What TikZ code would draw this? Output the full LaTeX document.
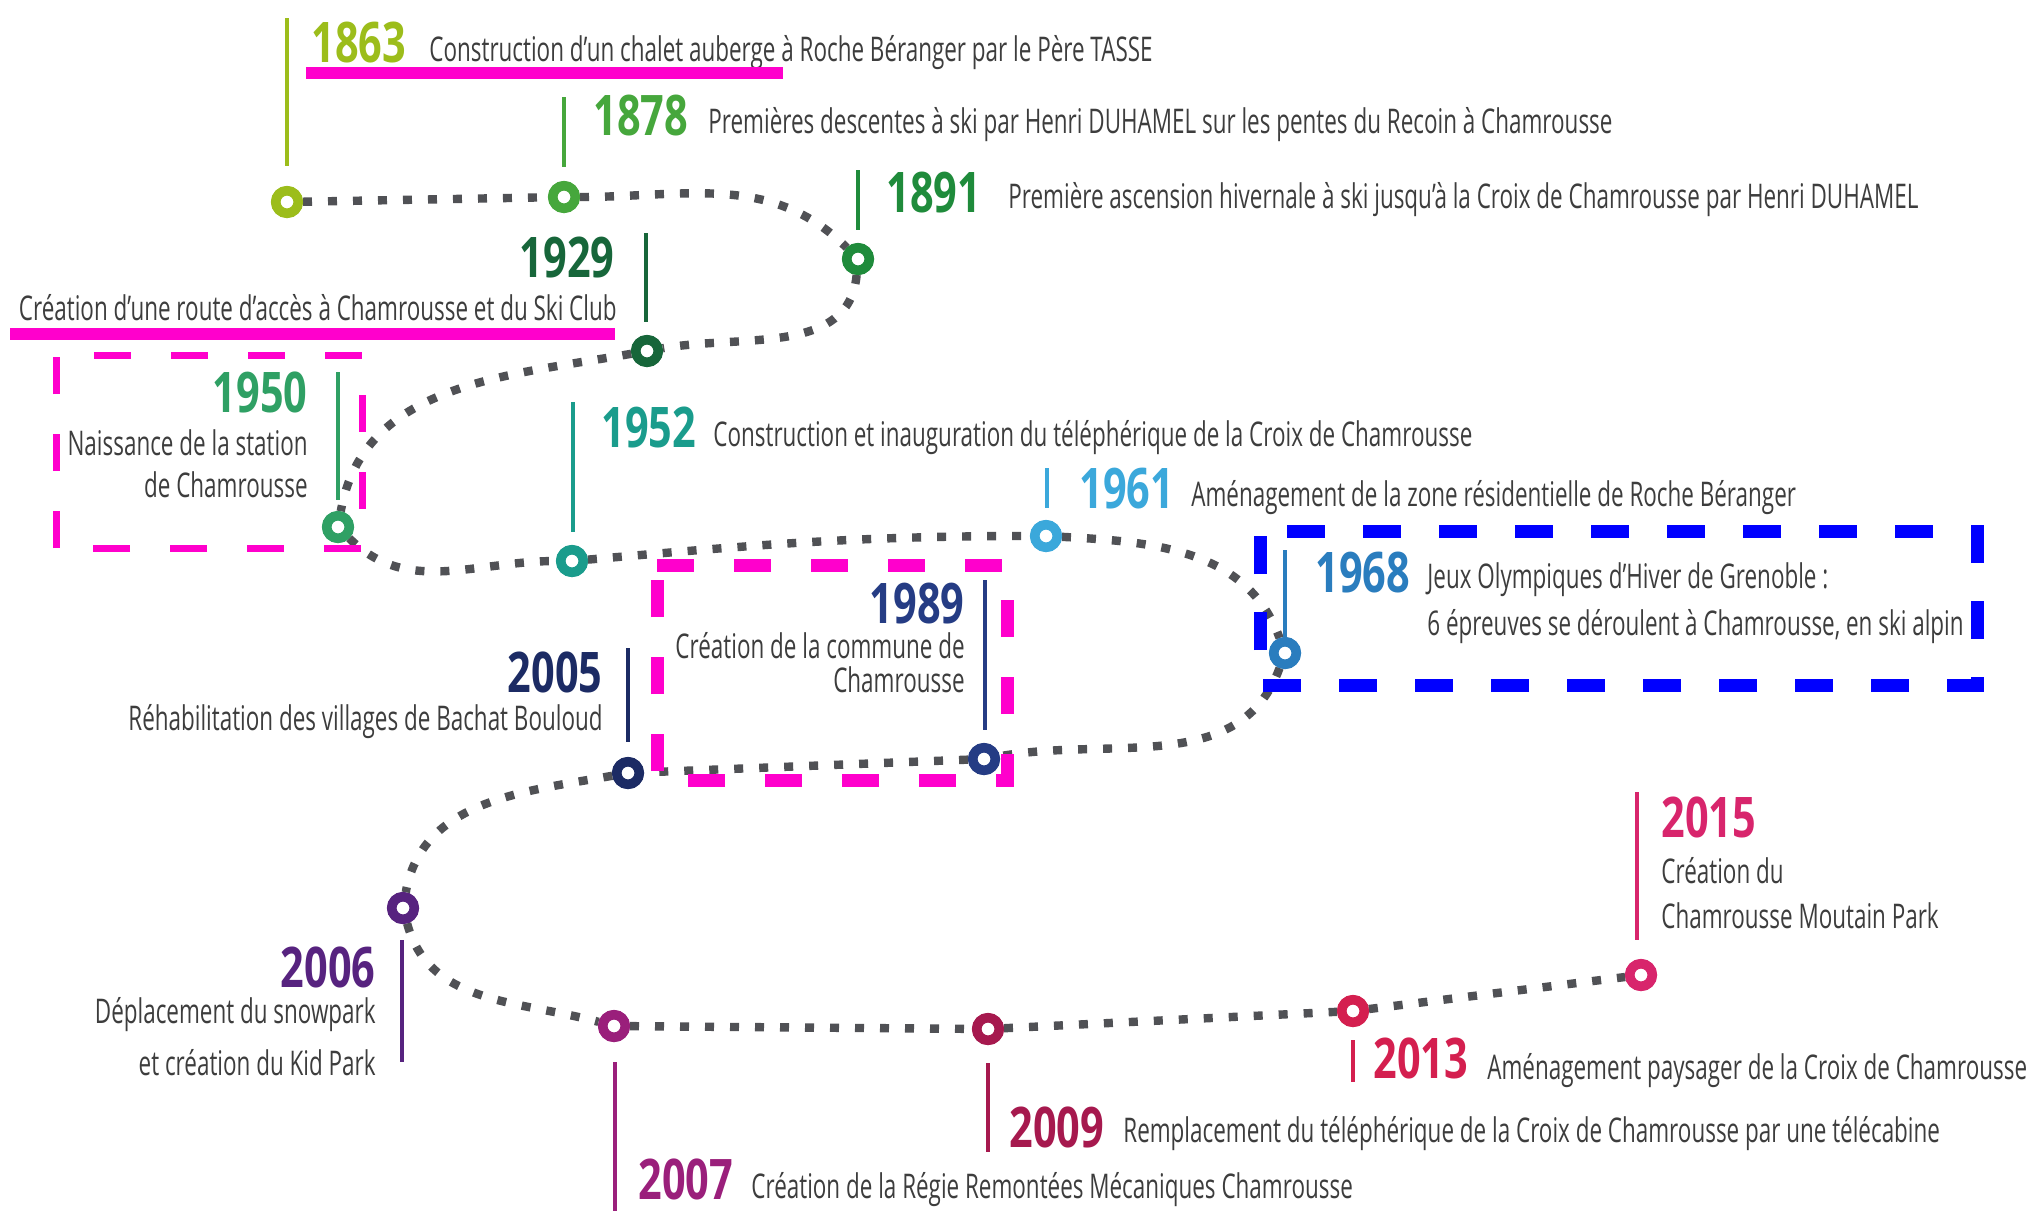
\documentclass[tikz,border=0pt]{standalone}
\usepackage{fontspec}
\setmainfont{Open Sans}
\newfontfamily\descfont[FakeStretch=0.66]{Open Sans}
\newfontfamily\yearfont[FakeStretch=0.74]{Open Sans}
\definecolor{c1863}{HTML}{9CBD1B}
\definecolor{c1878}{HTML}{46A73C}
\definecolor{c1891}{HTML}{1F8B3B}
\definecolor{c1929}{HTML}{17663A}
\definecolor{c1950}{HTML}{2FA064}
\definecolor{c1952}{HTML}{1A9C8C}
\definecolor{c1961}{HTML}{3BA8DB}
\definecolor{c1968}{HTML}{2A7DBE}
\definecolor{c1989}{HTML}{253C84}
\definecolor{c2005}{HTML}{1C2B64}
\definecolor{c2006}{HTML}{57237F}
\definecolor{c2007}{HTML}{9A1F7B}
\definecolor{c2009}{HTML}{A6194E}
\definecolor{c2013}{HTML}{D41F4F}
\definecolor{c2015}{HTML}{D8256C}
\definecolor{txtgray}{HTML}{3D3D3D}
\definecolor{dotgray}{HTML}{505155}
\definecolor{annmag}{HTML}{FF00CC}
\definecolor{annblue}{HTML}{0000FF}
\begin{document}
\begin{tikzpicture}[x=0.5pt,y=0.5pt,
  desc/.style={inner sep=0pt, font=\descfont\fontsize{17}{20}\selectfont, text=txtgray},
  yr/.style={inner sep=0pt, font=\yearfont\bfseries\fontsize{28}{30}\selectfont, text=#1},
  ring/.style={circle, draw=#1, fill=white, line width=4.75pt, minimum size=11.25pt, inner sep=0pt},
  stem/.style={draw=#1, line width=2pt},
  dots/.style={draw=dotgray, line width=4.2pt, dash pattern=on 4.5pt off 8pt},
  magline/.style={draw=annmag, line width=6pt},
  magthin/.style={draw=annmag, line width=3.5pt, dash pattern=on 18.5pt off 20pt},
  magthick/.style={draw=annmag, line width=6.5pt, dash pattern=on 18.5pt off 20pt},
  bluethick/.style={draw=annblue, line width=6.5pt, dash pattern=on 19pt off 19pt, dash phase=24.5pt}
]
\useasboundingbox[fill=white] (0,0) rectangle (2033,-1211);

% markers
\node[ring=c1863] (m1863) at (287,-202) {};
\node[ring=c1878] (m1878) at (564,-197) {};
\node[ring=c1891] (m1891) at (858,-259) {};
\node[ring=c1929] (m1929) at (647,-351) {};
\node[ring=c1950] (m1950) at (338,-527) {};
\node[ring=c1952] (m1952) at (572,-561) {};
\node[ring=c1961] (m1961) at (1046,-536) {};
\node[ring=c1968] (m1968) at (1285,-653) {};
\node[ring=c1989] (m1989) at (984,-759) {};
\node[ring=c2005] (m2005) at (628,-773) {};
\node[ring=c2006] (m2006) at (403,-908) {};
\node[ring=c2007] (m2007) at (614,-1026) {};
\node[ring=c2009] (m2009) at (988,-1029) {};
\node[ring=c2013] (m2013) at (1353,-1011) {};
\node[ring=c2015] (m2015) at (1641,-975) {};

% dotted path
\draw[dots] (m1863) -- (m1878)
  to[out=0,in=135] (m1891)
  to[out=-95,in=10] (m1929)
  to[out=190,in=80] (m1950)
  to[out=-45,in=180] (m1952)
  to[out=5,in=180] (m1961)
  to[out=-3,in=110] (m1968)
  to[out=-110,in=10] (m1989)
  -- (m2005)
  to[out=190,in=80] (m2006)
  to[out=-75,in=165] (m2007)
  -- (m2009) -- (m2013) -- (m2015);
% redraw rings on top
\foreach \n/\c in {1863/c1863,1878/c1878,1891/c1891,1929/c1929,1950/c1950,1952/c1952,1961/c1961,1968/c1968,1989/c1989,2005/c2005,2006/c2006,2007/c2007,2009/c2009,2013/c2013,2015/c2015}
  \draw[draw=\c, fill=white, line width=4.75pt] (m\n.center) circle[radius=5.625pt];

% stems
\draw[stem=c1863] (287,-18) -- (287,-166);
\draw[stem=c1878] (564,-97) -- (564,-167);
\draw[stem=c1891] (858,-170) -- (858,-230);
\draw[stem=c1929] (646,-233) -- (646,-322);
\draw[stem=c1950] (338,-372) -- (338,-500);
\draw[stem=c1952] (573,-402) -- (573,-532);
\draw[stem=c1961] (1047,-468) -- (1047,-508);
\draw[stem=c1968] (1285,-550) -- (1285,-637);
\draw[stem=c1989] (985,-580) -- (985,-730);
\draw[stem=c2005] (628,-648) -- (628,-742);
\draw[stem=c2006] (402,-940) -- (402,-1062);
\draw[stem=c2007] (615,-1062) -- (615,-1211);
\draw[stem=c2009] (988,-1063) -- (988,-1152);
\draw[stem=c2013] (1353,-1040) -- (1353,-1082);
\draw[stem=c2015] (1637,-792) -- (1637,-940);

% years
\node[yr=c1863, anchor=base west] (y1863) at (311,-62) {1863};
\node[yr=c1878, anchor=base west] (y1878) at (593,-135) {1878};
\node[yr=c1891, anchor=base west] (y1891) at (886,-212) {1891};
\node[yr=c1929, anchor=base east] (y1929) at (615,-277) {1929};
\node[yr=c1950, anchor=base east] (y1950) at (308,-412) {1950};
\node[yr=c1952, anchor=base west] (y1952) at (601,-447) {1952};
\node[yr=c1961, anchor=base west] (y1961) at (1079,-508) {1961};
\node[yr=c1968, anchor=base west] (y1968) at (1315,-592) {1968};
\node[yr=c1989, anchor=base east] (y1989) at (965,-623) {1989};
\node[yr=c2005, anchor=base east] (y2005) at (603,-692) {2005};
\node[yr=c2006, anchor=base east] (y2006) at (376,-987) {2006};
\node[yr=c2007, anchor=base west] (y2007) at (638,-1199) {2007};
\node[yr=c2009, anchor=base west] (y2009) at (1009,-1147) {2009};
\node[yr=c2013, anchor=base west] (y2013) at (1373,-1078) {2013};
\node[yr=c2015, anchor=base west] (y2015) at (1661,-837) {2015};

% descriptions
\node[desc, anchor=base west] (d1863) at (429,-61) {Construction d’un chalet auberge à Roche Béranger par le Père TASSE};
\node[desc, anchor=base west] (d1878) at (708,-133) {Premières descentes à ski par Henri DUHAMEL sur les pentes du Recoin à Chamrousse};
\node[desc, anchor=base west] (d1891) at (1008,-208) {Première ascension hivernale à ski jusqu’à la Croix de Chamrousse par Henri DUHAMEL};
\node[desc, anchor=base east] (d1929) at (617,-320) {Création d’une route d’accès à Chamrousse et du Ski Club};
\node[desc, anchor=base east] (d1950a) at (308,-455) {Naissance de la station};
\node[desc, anchor=base east] (d1950b) at (308,-497) {de Chamrousse};
\node[desc, anchor=base west] (d1952) at (713,-446) {Construction et inauguration du téléphérique de la Croix de Chamrousse};
\node[desc, anchor=base west] (d1961) at (1191,-506) {Aménagement de la zone résidentielle de Roche Béranger};
\node[desc, anchor=base west] (d1968a) at (1427,-588) {Jeux Olympiques d’Hiver de Grenoble :};
\node[desc, anchor=base west] (d1968b) at (1427,-635) {6 épreuves se déroulent à Chamrousse, en ski alpin};
\node[desc, anchor=base east] (d1989a) at (965,-658) {Création de la commune de};
\node[desc, anchor=base east] (d1989b) at (965,-692) {Chamrousse};
\node[desc, anchor=base east] (d2005) at (603,-730) {Réhabilitation des villages de Bachat Bouloud};
\node[desc, anchor=base east] (d2006a) at (376,-1023) {Déplacement du snowpark};
\node[desc, anchor=base east] (d2006b) at (376,-1075) {et création du Kid Park};
\node[desc, anchor=base west] (d2007) at (751,-1198) {Création de la Régie Remontées Mécaniques Chamrousse};
\node[desc, anchor=base west] (d2009) at (1123,-1142) {Remplacement du téléphérique de la Croix de Chamrousse par une télécabine};
\node[desc, anchor=base west] (d2013) at (1487,-1079) {Aménagement paysager de la Croix de Chamrousse};
\node[desc, anchor=base west] (d2015a) at (1661,-883) {Création du};
\node[desc, anchor=base west] (d2015b) at (1661,-928) {Chamrousse Moutain Park};

% annotations
\draw[magline] (306,-73) -- (783,-73);
\draw[magline] (10,-334) -- (615,-334);
\draw[magthin] (56,-548) -- (56,-355) -- (362,-355) -- (362,-548) -- cycle;
\draw[magthick] (657,-565) -- (1007,-565) -- (1007,-780) -- (657,-780) -- cycle;
\draw[bluethick] (1260,-531) -- (1977,-531) -- (1977,-685) -- (1260,-685) -- cycle;
\end{tikzpicture}
\end{document}
